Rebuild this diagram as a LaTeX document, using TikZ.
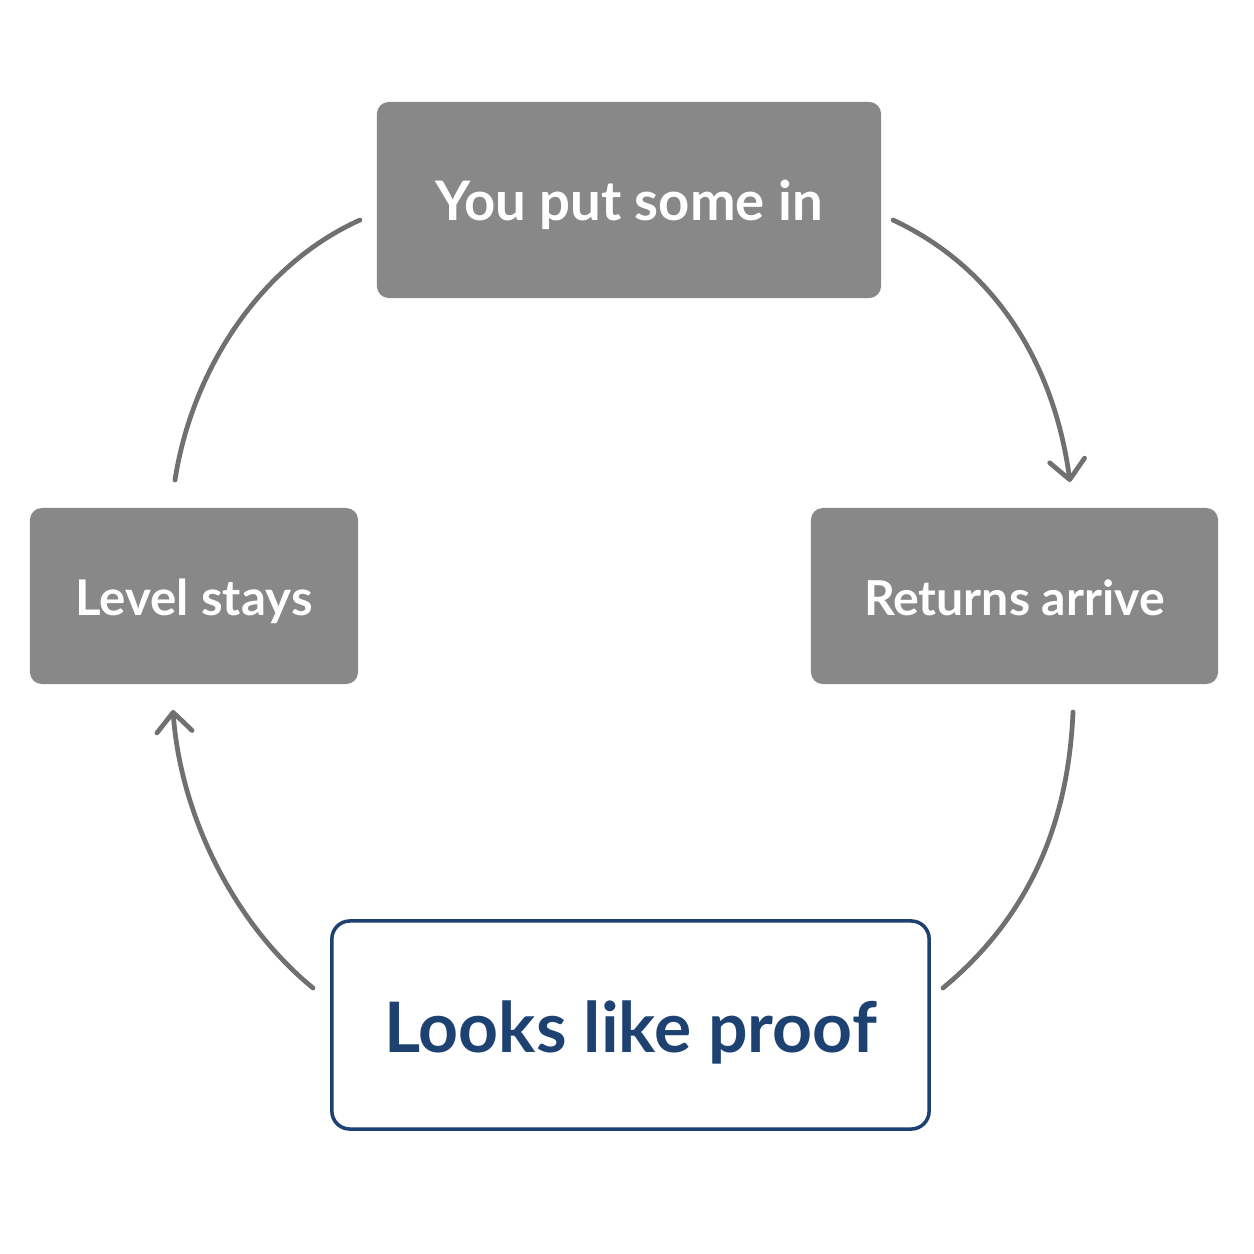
\documentclass[tikz,border=0pt]{standalone}
\usepackage{fontspec}
\setmainfont{Lato}
\usetikzlibrary{arrows.meta}
\definecolor{boxgray}{HTML}{888888}
\definecolor{linegray}{HTML}{707070}
\definecolor{proofblue}{HTML}{1D4170}
\newcommand{\dropby}[2]{\raisebox{-#1}[\height][\depth]{#2}}
\begin{document}
\begin{tikzpicture}[x=0.01cm,y=-0.01cm,
  graybox/.style={fill=boxgray,draw=none,rounded corners=12*0.2845pt,text=white,font=\bfseries\fontsize{15.5}{18}\selectfont,inner sep=0pt},
  bluebox/.style={fill=white,draw=proofblue,line width=1pt,rounded corners=18*0.2845pt,text=proofblue,font=\bfseries\fontsize{19.8}{24}\selectfont,inner sep=0pt},
  flow/.style={draw=linegray,line width=1.35pt,line cap=round},
  tip/.style={-{Straight Barb[length=5.5pt,width=10pt,round]}}]
\useasboundingbox (0,0) rectangle (1254,1254);
\fill[white] (0,0) rectangle (1254,1254);
\node[graybox,minimum width=504*0.2845pt,minimum height=196*0.2845pt] (top) at (629,200) {\dropby{1.4pt}{You put some in}};
\node[graybox,minimum width=407*0.2845pt,minimum height=176*0.2845pt,font=\bfseries\fontsize{13.7}{17}\selectfont] (right) at (1014.5,596) {\dropby{0.6pt}{Returns arrive}};
\node[graybox,minimum width=328*0.2845pt,minimum height=176*0.2845pt,font=\bfseries\fontsize{14}{17}\selectfont] (left) at (194,596) {\dropby{1.4pt}{Level stays}};
\node[bluebox,minimum width=597*0.2845pt,minimum height=208*0.2845pt] (bottom) at (630.5,1025) {\dropby{2pt}{Looks like proof}};
\coordinate (a1) at (893,220);
\coordinate (a2) at (1070,482);
\coordinate (b1) at (1073,712);
\coordinate (b2) at (943,988);
\coordinate (c1) at (313,988);
\coordinate (c2) at (173,710);
\coordinate (d1) at (175,480);
\coordinate (d2) at (360,220);
\draw[flow,tip] (a1) .. controls (1000,270) and (1055,370) .. (a2);
\draw[flow] (b1) .. controls (1068,830) and (1025,920) .. (b2);
\draw[flow,tip] (c1) .. controls (230,920) and (180,810) .. (c2);
\draw[flow] (d1) .. controls (192,370) and (260,265) .. (d2);
\end{tikzpicture}
\end{document}
